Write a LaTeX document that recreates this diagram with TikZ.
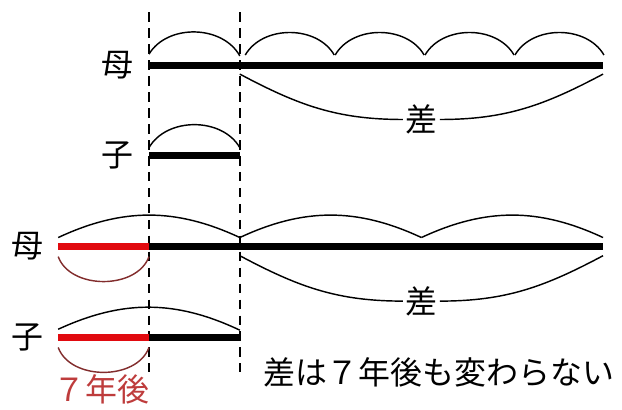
\documentclass[tikz,border=0pt]{standalone}
\usepackage{fontspec}
\newfontfamily\jpfont{Noto Sans CJK JP}
\usetikzlibrary{positioning}

\definecolor{barred}{RGB}{225,10,15}
\definecolor{arcred}{RGB}{130,45,45}
\definecolor{txtred}{RGB}{190,60,60}

\tikzset{
  bar/.style={line width=2.2pt},
  hump/.style={line width=0.45pt},
  guide/.style={line width=0.5pt, dash pattern=on 3pt off 2pt},
  lbl/.style={font=\jpfont\fontsize{10}{10}\selectfont, inner sep=0pt},
  sa/.style={font=\jpfont\fontsize{10}{10}\selectfont, inner sep=0.6pt}
}

\begin{document}
\begin{tikzpicture}
    \useasboundingbox (-1.641,-3.789) rectangle (5.209,0.716);

    % guide lines
    \draw[guide] (0,0.58) -- (0,-3.38);
    \draw[guide] (1,0.58) -- (1,-3.38);

    % now: mother
    \coordinate (m1) at (0,0);
    \node[lbl, left=0.16 of m1] (mlab1) {母};
    \draw[bar] (m1) -- (5,0);
    \draw[hump] (0,0.12) to[bend left=60] (1,0.1);
    \foreach \x in {1.06,2.05,3.04,4.03}
    \draw[hump] (\x,0.11) to[bend left=60] (\x+0.98,0.11);
    \node[sa] (diff1) at (3,-0.6) {差};
    \draw[hump] (1,-0.1) to[out=-28,in=180] (diff1.west);
    \draw[hump] (diff1.east) to[out=0,in=-152] (5,-0.1);

    % now: child
    \coordinate (c1) at (0,-1);
    \node[lbl, left=0.16 of c1] (clab1) {子};
    \draw[bar] (c1) -- (1,-1);
    \draw[hump] (0,-0.91) to[bend left=60] (1,-0.91);

    % 7 years later: mother
    \coordinate (m2) at (-1,-2);
    \node[lbl, left=0.16 of m2] (mlab2) {母};
    \draw[bar, barred] (m2) -- (0,-2);
    \draw[bar] (0,-2) -- (5,-2);
    \foreach \x in {-1,1,3}
    \draw[hump] (\x,-1.9) to[bend left=25] (\x+2,-1.9);
    \draw[hump, arcred] (-1,-2.11) to[bend right=70] (0,-2.11);
    \node[sa] (diff2) at (3,-2.6) {差};
    \draw[hump] (1,-2.1) to[out=-28,in=180] (diff2.west);
    \draw[hump] (diff2.east) to[out=0,in=-152] (5,-2.1);

    % 7 years later: child
    \coordinate (c2) at (-1,-3);
    \node[lbl, left=0.16 of c2] (clab2) {子};
    \draw[bar, barred] (c2) -- (0,-3);
    \draw[bar] (0,-3) -- (1,-3);
    \draw[hump] (-1,-2.91) to[bend left=25] (1,-2.92);
    \draw[hump, arcred] (-1,-3.11) to[bend right=70] (0,-3.11);
    \node[lbl, txtred] (later) at (-0.52,-3.57) {７年後};

    \node[lbl] (note) at (3.19,-3.39) {差は７年後も変わらない};
  \end{tikzpicture}
\end{document}
